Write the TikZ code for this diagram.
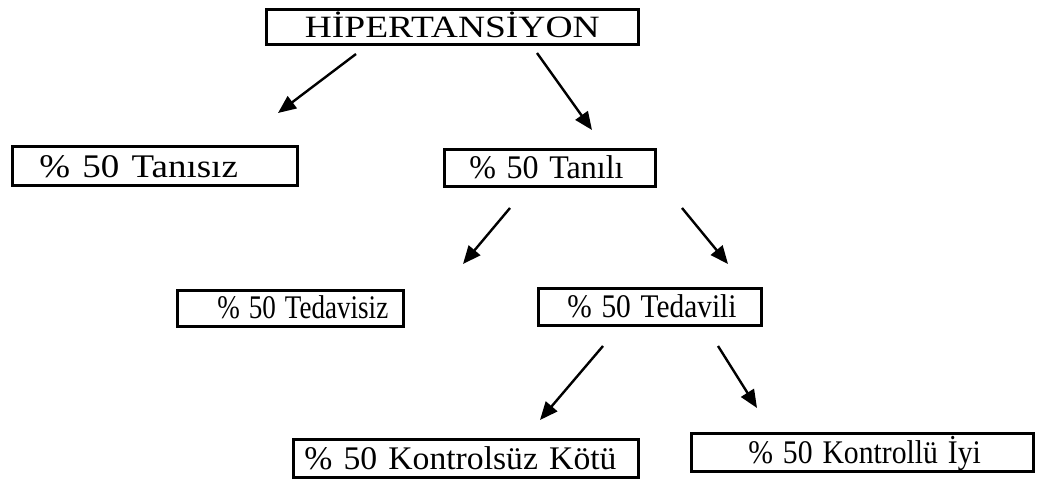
\documentclass[tikz,border=0pt]{standalone}
\usepackage{fontspec}
\usepackage{graphicx}
\setmainfont{Liberation Serif}
\usetikzlibrary{positioning,arrows.meta}
\tikzset{
  box/.style={draw=black, line width=2.6pt, anchor=north west,
    inner xsep=0pt, inner ysep=0pt, align=left,
    text height=29pt, text depth=8pt,
    font=\fontsize{33}{40}\selectfont},
  branch/.style={draw=black, line width=2.4pt,
    -{Triangle[length=18pt,width=15pt]}}
}

\begin{document}
\begin{tikzpicture}[x=1pt, y=-1pt]
    \useasboundingbox (0,0) rectangle (1048,482);

    % boxes
    \node[box, text width=372pt, align=center, text height=28pt, text depth=7pt,
      font=\fontsize{31}{38}\selectfont] (hip) at (265,8) {\scalebox{1.21}[1]{HİPERTANSİYON}};
    \node[box, text width=285pt, text height=31pt] (tanisiz) at (11,145) {\hspace*{27pt}\scalebox{1.12}[1]{\% 50 Tanısız}};
    \node[box, text width=211pt] (tanili) at (443,148) {\hspace*{25pt}\scalebox{0.97}[1]{\% 50 Tanılı}};
    \node[box, text width=226pt, text height=28pt] (tedavisiz) at (176,289) {\hspace*{40pt}\scalebox{0.82}[1]{\% 50 Tedavisiz}};
    \node[box, text width=223pt] (tedavili) at (537,287) {\hspace*{29pt}\scalebox{0.89}[1]{\% 50 Tedavili}};
    \node[box, text width=345pt, text height=30pt] (kontrolsuz) at (292,438) {\hspace*{11pt}\scalebox{1.02}[1]{\% 50 Kontrolsüz Kötü}};
    \node[box, text width=342pt, text height=30pt] (kontrollu) at (690,432) {\hspace*{57pt}\scalebox{0.90}[1]{\% 50 Kontrollü İyi}};

    % arrow ends
    \coordinate (hip-l) at (356,54);
    \coordinate (tanisiz-n) at (278,113);
    \coordinate (hip-r) at (537,53);
    \coordinate (tanili-n) at (592,130);
    \coordinate (tanili-l) at (510,208);
    \coordinate (tedavisiz-n) at (463,264);
    \coordinate (tanili-r) at (682,208);
    \coordinate (tedavili-n) at (728,264);
    \coordinate (tedavili-l) at (603,346);
    \coordinate (kontrolsuz-n) at (540,420);
    \coordinate (tedavili-r) at (718,346);
    \coordinate (kontrollu-n) at (757,408);

    \draw[branch] (hip-l) -- (tanisiz-n);
    \draw[branch] (hip-r) -- (tanili-n);
    \draw[branch] (tanili-l) -- (tedavisiz-n);
    \draw[branch] (tanili-r) -- (tedavili-n);
    \draw[branch] (tedavili-l) -- (kontrolsuz-n);
    \draw[branch] (tedavili-r) -- (kontrollu-n);
\end{tikzpicture}
\end{document}
